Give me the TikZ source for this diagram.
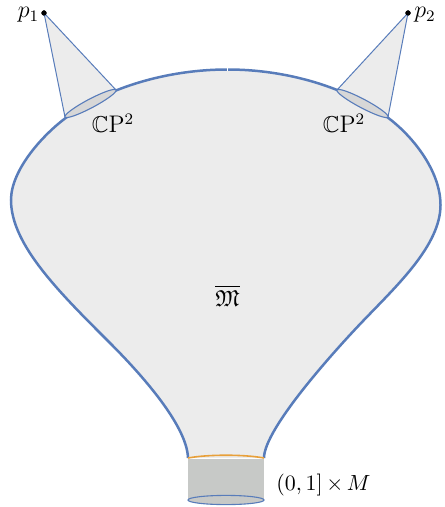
\documentclass[tikz,border=0pt]{standalone}
\usepackage{amssymb}
\definecolor{outl}{RGB}{88,124,186}
\definecolor{blobfill}{RGB}{236,236,236}
\definecolor{ellfill}{RGB}{215,215,215}
\definecolor{cylfill}{RGB}{199,201,199}
\definecolor{neckline}{RGB}{232,160,58}
\tikzset{
  lbl/.style={inner sep=0pt, font=\fontsize{11.5}{14}\selectfont},
  apexdot/.style={circle, fill=black, inner sep=0pt, minimum size=2.6pt},
  outline/.style={draw=outl, line width=1.25pt},
  conefill/.style={fill=blobfill},
  coneline/.style={draw=outl, line width=0.5pt},
  cpell/.style={fill=ellfill, draw=outl, line width=0.55pt},
}
\begin{document}
\begin{tikzpicture}[x=0.5pt,y=-0.5pt]
\useasboundingbox (0,0) rectangle (444,507);
\coordinate (A) at (188,458);
\coordinate (M1) at (110,343);
\coordinate (B) at (11,200);
\coordinate (Q) at (67,117);
\coordinate (C) at (227.5,69.5);
\coordinate (R) at (387,117);
\coordinate (D) at (440.5,205);
\coordinate (M2) at (363,321);
\coordinate (E) at (264,458);
% blob
\path[outline, fill=blobfill] (A) .. controls (187,425) and (140,373) .. (M1)
  .. controls (60,293) and (11,245) .. (B)
  .. controls (11,170) and (42.7,134.7) .. (Q)
  .. controls (107.5,87.5) and (167.5,69.5) .. (C)
  .. controls (287.5,69.5) and (346.5,87.5) .. (R)
  .. controls (411.3,134.7) and (440.5,170) .. (D)
  .. controls (440.5,245) and (397.5,285) .. (M2)
  .. controls (338.8,346.2) and (264,428) .. (E);
\draw[white, line width=0.4pt] (227.5,68.3) -- (227.5,71);
% cylinder
\fill[cylfill] (188,459) rectangle (264,500);
\draw[neckline, line width=0.8pt] (A) .. controls (208,454.3) and (244,454.3) .. (E);
\draw[cpell, fill=cylfill] (226,500) ellipse [x radius=38, y radius=4.6];
% left cone
\coordinate (l1) at (65,117);
\coordinate (l2) at (116,90);
\node[apexdot] (p1) at (44,13) {};
\fill[conefill] (p1.center) -- (l1) -- (l2) -- cycle;
\draw[coneline] (l1) -- (p1.center) -- (l2);
\draw[cpell, rotate around={27.9:(90.5,103.5)}] (90.5,103.5) ellipse [x radius=28.9, y radius=4.4];
\node[apexdot] at (p1) {};
% right cone
\coordinate (r1) at (337,90);
\coordinate (r2) at (388,117);
\node[apexdot] (p2) at (408,13) {};
\fill[conefill] (p2.center) -- (r1) -- (r2) -- cycle;
\draw[coneline] (r1) -- (p2.center) -- (r2);
\draw[cpell, rotate around={-27.9:(362.5,103.5)}] (362.5,103.5) ellipse [x radius=28.9, y radius=4.4];
\node[apexdot] at (p2) {};
% labels
\node[lbl, anchor=base east] (lp1) at (39.5,17.5) {$p_1$};
\node[lbl, anchor=base west] (lp2) at (414,18) {$p_2$};
\node[lbl, anchor=base] (cpl) at (113,133) {$\mathbb{C}\mathrm{P}^2$};
\node[lbl, anchor=base] (cpr) at (344,133) {$\mathbb{C}\mathrm{P}^2$};
\node[lbl, anchor=base] (mm) at (227.5,306) {$\overline{\mathfrak{M}}$};
\node[lbl, font=\fontsize{11}{13}\selectfont, anchor=base west] (cyl) at (276,490) {$(0,1]\,{\times}\,M$};
\end{tikzpicture}
\end{document}
